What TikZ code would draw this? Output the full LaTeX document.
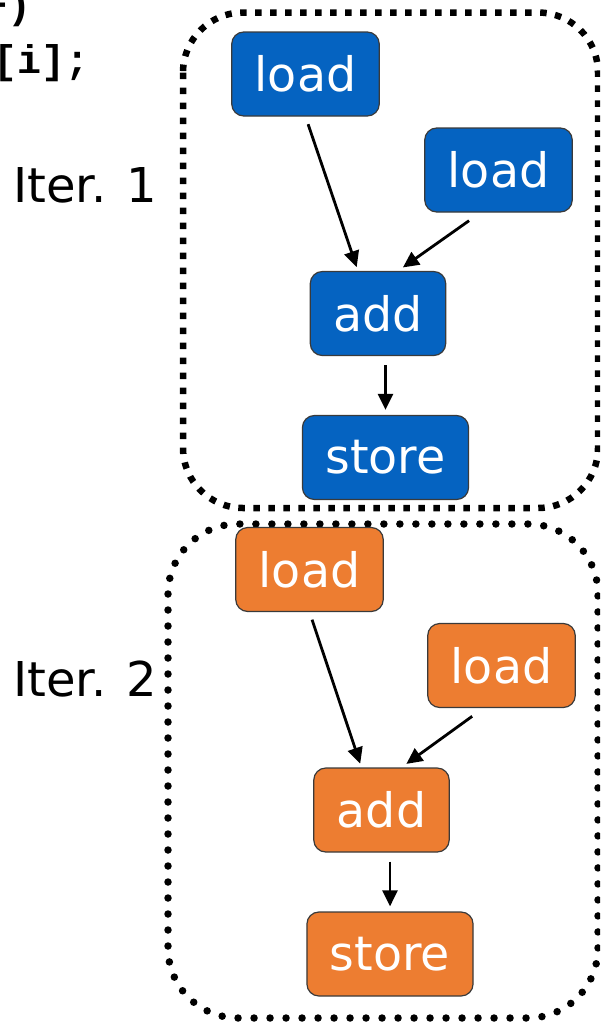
\documentclass[tikz,border=0pt]{standalone}
\usepackage{fontspec}
\setmainfont{DejaVu Sans}
\newfontfamily\codefont{Liberation Mono}
\usetikzlibrary{arrows.meta, calc}

\definecolor{opblue}{HTML}{0563C1}
\definecolor{oporange}{HTML}{ED7D31}
\definecolor{opedge}{HTML}{3A3A3A}

\begin{document}
\begin{tikzpicture}[x=1pt, y=-1pt,
  op/.style={rectangle, rounded corners=12pt, draw=opedge, line width=1.2pt, text=white, font=\fontsize{47.5}{56}\selectfont, minimum height=84pt, inner xsep=23pt, inner ysep=0pt},
  blueop/.style={op, fill=opblue},
  orangeop/.style={op, fill=oporange},
  arrow/.style={-{Triangle[length=16pt, width=15pt]}, line width=2.8pt},
  iterbox/.style={rounded corners=#1},
  squaredots/.style={line width=6.5pt, dash pattern=on 6.5pt off 8.5pt, line cap=butt},
  rounddots/.style={line width=7.5pt, dash pattern=on 0pt off 16pt, line cap=round},
  iterlabel/.style={font=\fontsize{48}{56}\selectfont, inner sep=0pt, anchor=west},
  codeline/.style={font=\codefont\bfseries\fontsize{40}{48}\selectfont, inner sep=0pt, anchor=base east}
]
\useasboundingbox (0,0) rectangle (600,1023);
\clip (0,0) rectangle (600,1023);

% loop source, cut at the left
\node[codeline] (code1) at (32,18) {+)};
\node[codeline] (code2) at (90,73) {[i];};

% iteration frames
\draw[iterbox=60pt, squaredots] (183,12.5) rectangle (598,508);
\draw[iterbox=70pt, rounddots] (168,524) rectangle (598,1018);

\node[iterlabel] (iter1) at (13,185) {Iter. 1};
\node[iterlabel] (iter2) at (13,679) {Iter. 2};

% iteration 1
\node[blueop] (loadA1) at (305.5,74) {load};
\node[blueop] (loadB1) at (498.5,170) {load};
\node[blueop] (add1) at (378,313.5) {add};
\node[blueop] (store1) at (385.5,457.5) {store};

\draw[arrow, shorten <=8pt, shorten >=4pt] (loadA1.south) -- ($(add1.north)+(-20,0)$);
\draw[arrow, shorten <=14pt, shorten >=6pt] ($(loadB1.south)+(-18,0)$) -- ($(add1.north)+(20,0)$);
\draw[arrow, shorten <=9pt, shorten >=5pt] (add1.south -| store1.north) -- (store1.north);

% iteration 2
\node[orangeop] (loadA2) at (309.5,569.5) {load};
\node[orangeop] (loadB2) at (501.5,665.5) {load};
\node[orangeop] (add2) at (381.5,810) {add};
\node[orangeop] (store2) at (390,954) {store};

\draw[arrow, shorten <=8pt, shorten >=4pt] (loadA2.south) -- ($(add2.north)+(-20,0)$);
\draw[arrow, shorten <=14pt, shorten >=6pt] ($(loadB2.south)+(-18,0)$) -- ($(add2.north)+(20,0)$);
\draw[arrow, shorten <=9pt, shorten >=5pt] (add2.south -| store2.north) -- (store2.north);

\end{tikzpicture}
\end{document}
